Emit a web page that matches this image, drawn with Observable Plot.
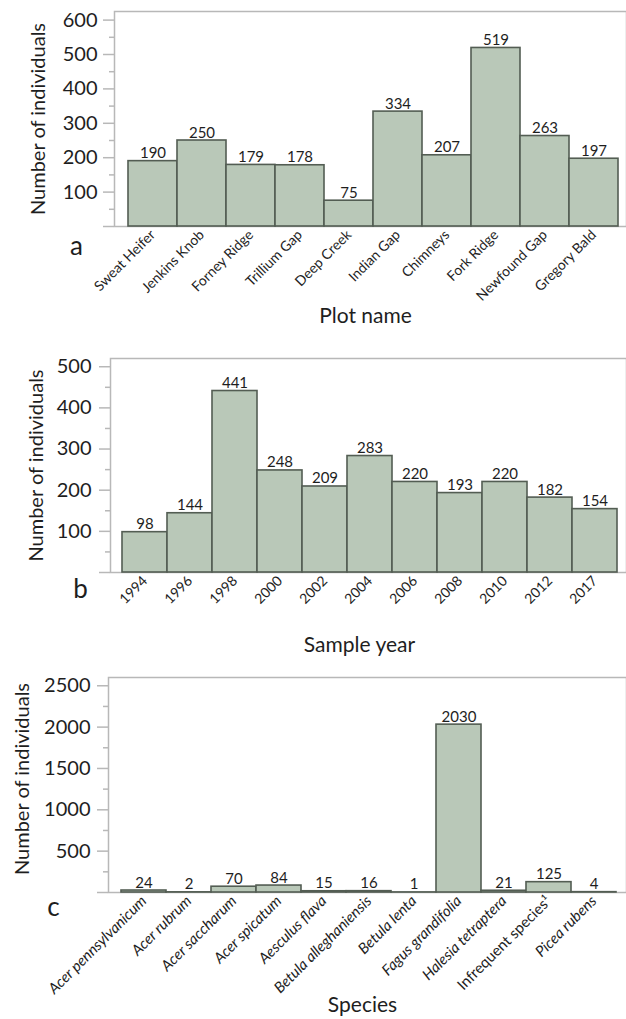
<!DOCTYPE html>
<html>
<head>
<meta charset="utf-8">
<script src="https://cdn.jsdelivr.net/npm/d3@7"></script>
<script src="https://cdn.jsdelivr.net/npm/@observablehq/plot@0.6"></script>
<style>
  body { margin: 0; background: #fff; }
  svg { display: block; }
</style>
</head>
<body>
<div id="chart"></div>
<script>
// Panel a — plots
const plotNames = ["Sweat Heifer", "Jenkins Knob", "Forney Ridge", "Trillium Gap", "Deep Creek", "Indian Gap", "Chimneys", "Fork Ridge", "Newfound Gap", "Gregory Bald"];
const plotCounts = [190, 250, 179, 178, 75, 334, 207, 519, 263, 197];
const plotTicksMajor = [0, 100, 200, 300, 400, 500, 600];
const plotTicksMinor = [50, 150, 250, 350, 450, 550];

// Panel b — sample years
const years = ["1994", "1996", "1998", "2000", "2002", "2004", "2006", "2008", "2010", "2012", "2017"];
const yearCounts = [98, 144, 441, 248, 209, 283, 220, 193, 220, 182, 154];
const yearTicksMajor = [0, 100, 200, 300, 400, 500];
const yearTicksMinor = [50, 150, 250, 350, 450];

// Panel c — species
const species = ["Acer pennsylvanicum", "Acer rubrum", "Acer saccharum", "Acer spicatum", "Aesculus flava", "Betula alleghaniensis", "Betula lenta", "Fagus grandifolia", "Halesia tetraptera", "Infrequent species¹", "Picea rubens"];
const speciesCounts = [24, 2, 70, 84, 15, 16, 1, 2030, 21, 125, 4];
const speciesPlain = ["Infrequent species¹"];
const speciesTicksMajor = [0, 500, 1000, 1500, 2000, 2500];
const speciesTicksMinor = [250, 750, 1250, 1750, 2250];

const FONT = "Lato, 'Open Sans', sans-serif";
const TEXT = "#1e1e1e";
const BAR_FILL = "#b9c8b8";
const BAR_STROKE = "#535d53";
const AXIS = "#b8b8b8";

function panel(o) {
  const data = o.cats.map((c, i) => ({cat: c, val: o.vals[i]}));
  const xOpts = {tickRotate: -45, tickSize: 0, tickPadding: o.tickPad, fontSize: o.tickFont, fill: TEXT, label: null};
  const xAxes = o.plain
    ? [
        Plot.axisX(o.cats.filter(c => !o.plain.includes(c)), {...xOpts, fontStyle: "italic"}),
        Plot.axisX(o.plain, xOpts)
      ]
    : [Plot.axisX(xOpts)];
  const centered = {textAnchor: "middle", lineAnchor: "middle", fill: TEXT};
  return Plot.plot({
    width: 626,
    height: o.height,
    marginTop: o.marginTop,
    marginBottom: o.marginBottom,
    marginLeft: o.marginLeft,
    marginRight: 0,
    style: {fontFamily: FONT, color: TEXT, background: "#fff", overflow: "visible"},
    x: {domain: o.cats, range: o.xRange, padding: 0, label: null},
    y: {domain: [0, o.yMax], label: null},
    marks: [
      Plot.frame({stroke: AXIS, strokeWidth: 1.5}),
      Plot.barY(data, {x: "cat", y: "val", fill: BAR_FILL, stroke: BAR_STROKE, strokeWidth: 1.6}),
      Plot.text(data, {x: "cat", y: "val", text: d => String(d.val), dy: -3, lineAnchor: "bottom", fontSize: 15, fill: TEXT}),
      Plot.axisY(o.major, {tickSize: 11, stroke: AXIS, strokeWidth: 1.5, tickFormat: () => "", label: null}),
      Plot.axisY(o.minor, {tickSize: 5, stroke: AXIS, strokeWidth: 1.5, tickFormat: () => "", label: null}),
      Plot.axisY(o.major.filter(v => v > 0), {tickSize: 0, tickPadding: o.yPad, fontSize: 20, fill: TEXT, tickFormat: d => String(d), label: null}),
      ...xAxes,
      Plot.text([o.yLabel], {...centered, frameAnchor: "left", rotate: -90, dx: o.yLabelDx, dy: o.yLabelDy || 0, fontSize: 20}),
      Plot.text([o.letter], {...centered, frameAnchor: "bottom-left", dx: o.letterDx, dy: o.letterDy, fontSize: 26}),
      Plot.text([o.xLabel], {...centered, frameAnchor: "bottom", dx: o.xLabelDx, dy: o.xLabelDy, fontSize: 21})
    ]
  });
}

const root = document.getElementById("chart");
root.append(panel({
  cats: plotNames, vals: plotCounts, major: plotTicksMajor, minor: plotTicksMinor,
  height: 330, marginTop: 11, marginBottom: 104, marginLeft: 114, xRange: [123, 622], yMax: 625,
  yPad: 17, tickPad: 6, tickFont: 14,
  yLabel: "Number of individuals", yLabelDx: -76,
  letter: "a", letterDx: -38, letterDy: 20,
  xLabel: "Plot name", xLabelDx: -5, xLabelDy: 90
}));
root.append(panel({
  cats: years, vals: yearCounts, major: yearTicksMajor, minor: yearTicksMinor,
  height: 342, marginTop: 28, marginBottom: 100, marginLeft: 110, xRange: [119, 619], yMax: 520,
  yPad: 19, tickPad: 6, tickFont: 14,
  yLabel: "Number of individuals", yLabelDx: -74,
  letter: "b", letterDx: -30, letterDy: 17,
  xLabel: "Sample year", xLabelDx: -9, xLabelDy: 73
}));
root.append(panel({
  cats: species, vals: speciesCounts, major: speciesTicksMajor, minor: speciesTicksMinor,
  height: 347, marginTop: 5, marginBottom: 127, marginLeft: 108, xRange: [118, 618], yMax: 2600,
  yPad: 18, tickPad: 6, tickFont: 15, plain: speciesPlain,
  yLabel: "Number of individuals", yLabelDx: -86, yLabelDy: -6,
  letter: "c", letterDx: -55, letterDy: 15,
  xLabel: "Species", xLabelDx: -5, xLabelDy: 113
}));
</script>
</body>
</html>
